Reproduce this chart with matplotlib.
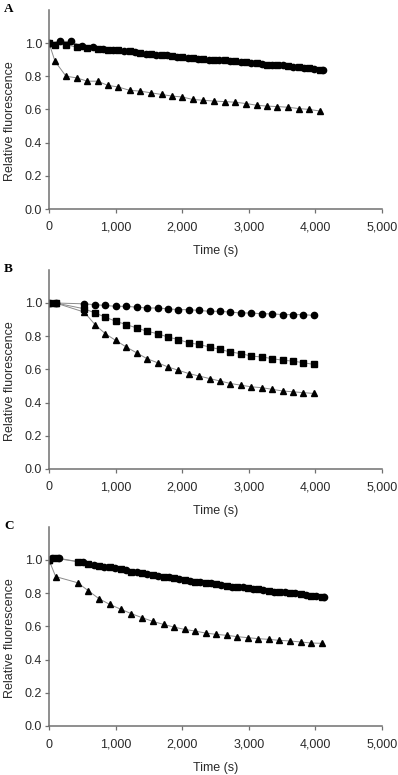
import matplotlib
matplotlib.use("Agg")
import matplotlib.pyplot as plt
from matplotlib.ticker import FuncFormatter

# Panel A
a_sq_t = [0, 90, 255, 415, 575, 730, 880, 1040, 1210, 1370, 1530, 1690, 1850, 2000,
          2155, 2315, 2480, 2640, 2800, 2965, 3120, 3270, 3430, 3590, 3750, 3905, 4070]
a_sq = [1.0, 0.99, 0.99, 0.975, 0.97, 0.965, 0.96, 0.955, 0.95, 0.94, 0.935, 0.93, 0.92,
        0.915, 0.91, 0.905, 0.90, 0.895, 0.89, 0.885, 0.88, 0.87, 0.865, 0.86, 0.855, 0.85, 0.84]
a_ci_t = [0, 170, 330, 495, 655, 805, 960, 1125, 1290, 1450, 1610, 1770, 1925, 2080,
          2235, 2400, 2560, 2720, 2880, 3040, 3195, 3350, 3510, 3670, 3825, 3985, 4110]
a_ci = [1.0, 1.01, 1.01, 0.98, 0.975, 0.965, 0.96, 0.95, 0.945, 0.935, 0.93, 0.925, 0.915,
        0.91, 0.905, 0.90, 0.895, 0.89, 0.885, 0.88, 0.875, 0.87, 0.865, 0.855, 0.85, 0.845, 0.84]
a_tr_t = a_sq_t
a_tr = [1.0, 0.89, 0.80, 0.79, 0.77, 0.77, 0.745, 0.735, 0.715, 0.71, 0.70, 0.69, 0.68, 0.675,
        0.66, 0.655, 0.65, 0.647, 0.643, 0.635, 0.625, 0.62, 0.617, 0.613, 0.605, 0.60, 0.59]

# Panel B
b_t = [0, 100, 530, 690, 845, 1000, 1160, 1315, 1470, 1630, 1785, 1940, 2100, 2255,
       2410, 2570, 2725, 2880, 3040, 3195, 3350, 3510, 3665, 3820, 3980]
b_ci = [1.0, 1.0, 0.995, 0.99, 0.985, 0.98, 0.98, 0.975, 0.97, 0.97, 0.965, 0.96, 0.96,
        0.955, 0.95, 0.95, 0.945, 0.94, 0.94, 0.935, 0.935, 0.93, 0.93, 0.93, 0.925]
b_sq = [1.0, 1.0, 0.965, 0.94, 0.915, 0.89, 0.87, 0.85, 0.83, 0.815, 0.795, 0.78, 0.76,
        0.75, 0.735, 0.72, 0.705, 0.695, 0.68, 0.675, 0.665, 0.655, 0.65, 0.64, 0.63]
b_tr = [1.0, 1.0, 0.945, 0.87, 0.815, 0.775, 0.735, 0.70, 0.665, 0.64, 0.615, 0.595, 0.575,
        0.56, 0.545, 0.53, 0.515, 0.505, 0.495, 0.49, 0.48, 0.47, 0.465, 0.46, 0.455]

# Panel C
c_tr_t = [0, 100, 430, 590, 750, 910, 1080, 1235, 1395, 1560, 1720, 1875, 2035, 2195,
          2350, 2510, 2675, 2830, 2990, 3145, 3300, 3460, 3625, 3780, 3935, 4095]
c_tr = [1.0, 0.90, 0.863, 0.815, 0.767, 0.733, 0.703, 0.677, 0.653, 0.63, 0.612, 0.596, 0.582,
        0.572, 0.56, 0.552, 0.546, 0.538, 0.532, 0.526, 0.522, 0.516, 0.512, 0.506, 0.50, 0.498]
c_sq_t = c_tr_t
c_sq = [1.0, 1.01, 0.99, 0.975, 0.965, 0.955, 0.945, 0.93, 0.92, 0.91, 0.90, 0.89, 0.88,
        0.87, 0.86, 0.855, 0.845, 0.84, 0.83, 0.825, 0.815, 0.81, 0.80, 0.795, 0.785, 0.78]
c_ci_t = [0, 50, 150, 510, 670, 830, 990, 1155, 1315, 1475, 1640, 1800, 1955, 2115,
          2270, 2430, 2590, 2750, 2910, 3065, 3220, 3380, 3545, 3700, 3860, 4015, 4130]
c_ci = [1.0, 1.01, 1.01, 0.985, 0.97, 0.96, 0.95, 0.94, 0.925, 0.915, 0.905, 0.895, 0.885,
        0.875, 0.865, 0.86, 0.85, 0.84, 0.835, 0.825, 0.82, 0.81, 0.805, 0.80, 0.79, 0.785, 0.78]

panels = [
    ("A", 209, [(a_sq_t, a_sq, "s"), (a_ci_t, a_ci, "o"), (a_tr_t, a_tr, "^")]),
    ("B", 469, [(b_t, b_ci, "o"), (b_t, b_sq, "s"), (b_t, b_tr, "^")]),
    ("C", 726, [(c_sq_t, c_sq, "s"), (c_ci_t, c_ci, "o"), (c_tr_t, c_tr, "^")]),
]

W, H = 398, 775
fig = plt.figure(figsize=(W / 100, H / 100), dpi=100)
plt.rcParams['font.family'] = ['Liberation Sans', 'DejaVu Sans']

spine_col = '#707070'
txt_col = '#2a2a2a'
for letter, y0, series in panels:
    ax = fig.add_axes([49 / W, 1 - y0 / H, 333 / W, 199.2 / H])
    for t, v, m in series:
        ax.plot(t, v, color='#8a8a8a', lw=0.7, zorder=1)
        ax.plot(t, v, ls='none', marker=m, ms=4.5 if m != "^" else 5.0,
                color='black', mec='black', zorder=2)
    ax.set_xlim(0, 5000)
    ax.set_ylim(0, 1.2)
    ax.set_xticks([0, 1000, 2000, 3000, 4000, 5000])
    ax.set_yticks([0, 0.2, 0.4, 0.6, 0.8, 1.0])
    ax.xaxis.set_major_formatter(FuncFormatter(lambda x, p: f"{int(x):,}"))
    ax.yaxis.set_major_formatter(FuncFormatter(lambda y, p: f"{y:.1f}"))
    for s in ['top', 'right']:
        ax.spines[s].set_visible(False)
    for s in ['left', 'bottom']:
        ax.spines[s].set_color(spine_col)
        ax.spines[s].set_linewidth(1.1)
    ax.tick_params(axis='both', direction='out', length=3, width=0.9,
                   color=spine_col, labelsize=9, labelcolor=txt_col)
    ax.tick_params(axis='x', pad=6)
    ax.tick_params(axis='y', pad=2)
    ax.set_xlabel("Time (s)", fontsize=9, color=txt_col, labelpad=8)
    ax.set_ylabel("Relative fluorescence", fontsize=9, color=txt_col)
    ax.yaxis.set_label_coords(-0.1, 0.44)
    ax.patch.set_visible(False)
    ytop = y0 - 199.2
    fig.text(4 / W, 1 - (ytop - 1) / H, letter, fontsize=9.5, fontweight='bold',
             family='Liberation Serif', va='center', ha='left')

fig.savefig("out.png", dpi=100)
